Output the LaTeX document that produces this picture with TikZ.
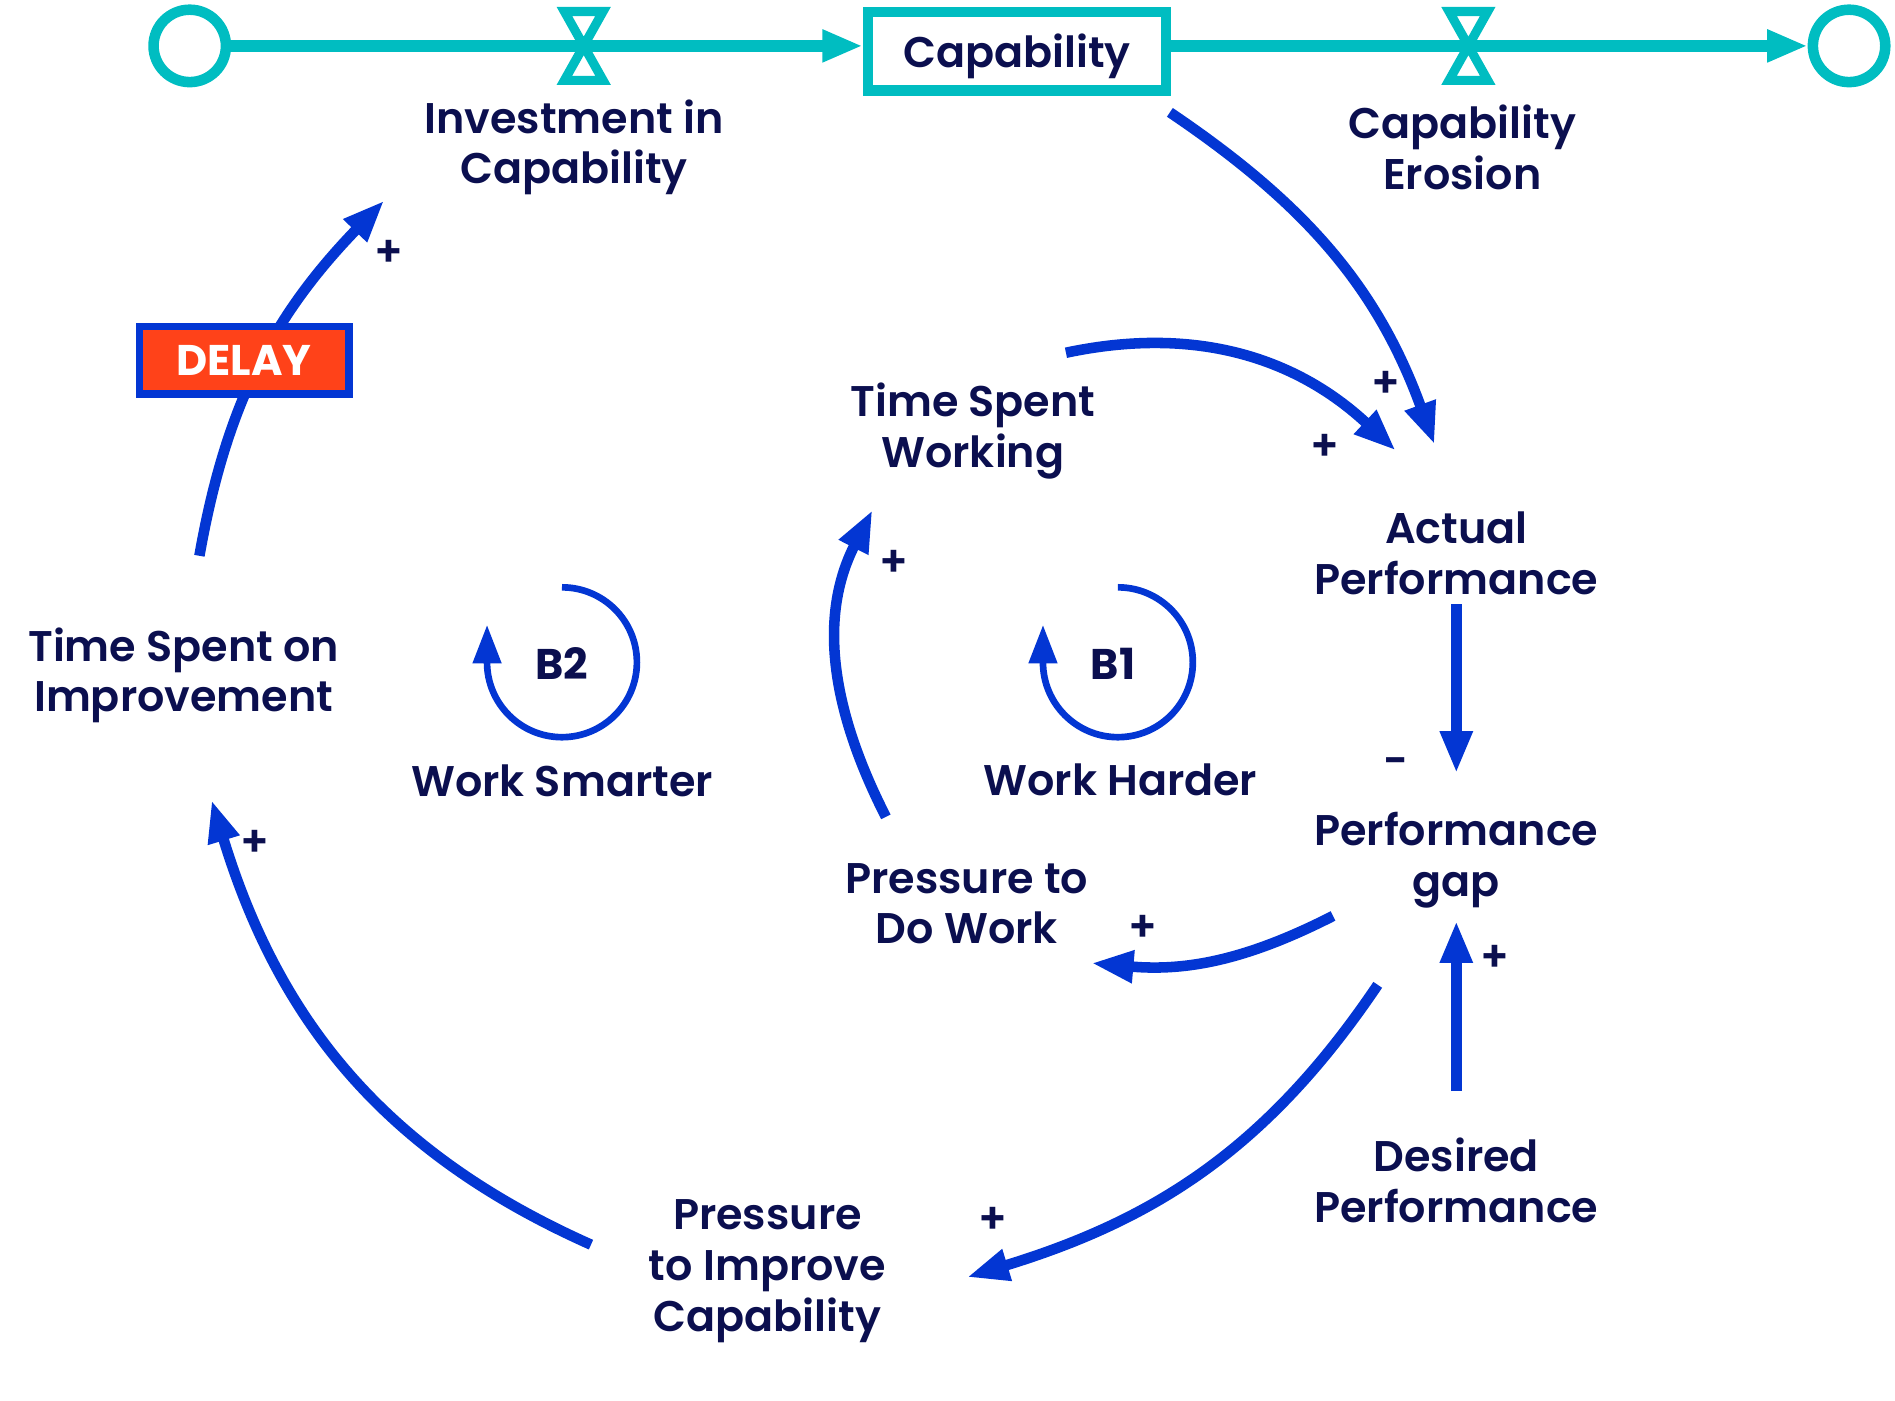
\documentclass[tikz,border=0pt]{standalone}
\usepackage{fontspec}
\setmainfont{Poppins SemiBold}[BoldFont=Poppins Bold]
\usetikzlibrary{positioning,arrows.meta}
\definecolor{navy}{HTML}{0B0F4F}
\definecolor{linkblue}{HTML}{0336D3}
\definecolor{pipeteal}{HTML}{00BDC1}
\definecolor{delayred}{HTML}{FF4219}
\newcommand{\labelfont}{\fontsize{12.2pt}{14.4pt}\selectfont}
\tikzset{
  causal/.style={-{Triangle[length=12pt,width=8.6pt]}, line width=3pt, linkblue},
  loopline/.style={-{Triangle[length=11pt,width=7.8pt]}, line width=1.9pt, linkblue},
  pipe/.style={-{Triangle[length=11.5pt,width=8.6pt]}, line width=3.2pt, pipeteal},
  stocknode/.style={draw=pipeteal, line width=3pt, fill=white, minimum width=84.8pt, minimum height=22.4pt, inner sep=0pt, text=navy, font=\labelfont},
  cloudnode/.style={circle, draw=pipeteal, line width=3pt, fill=white, minimum size=20.6pt, inner sep=0pt},
  valve/.style={draw=pipeteal, line width=2.6pt, fill=white},
  varnode/.style={text=navy, font=\labelfont, align=center, inner sep=0pt, yshift=-1pt},
  delaynode/.style={draw=linkblue, fill=delayred, line width=2.2pt, text=white, font=\labelfont\bfseries, minimum width=59.6pt, minimum height=19.2pt, inner sep=0pt},
  loopnode/.style={text=navy, font=\labelfont\bfseries, inner sep=0pt},
  polarity/.style={text=navy, font=\labelfont, inner sep=0pt}
}

\begin{document}
\begin{tikzpicture}[x=0.012086cm, y=0.012086cm]
  \useasboundingbox (0,0) rectangle (1568,1159);
  % stock and flows
  \node[cloudnode] (cloudL) at (157,1121) {};
  \node[stocknode] (cap) at (841.5,1116.5) {\smash{\raisebox{-4.6pt}{Capability}}};
  \node[cloudnode] (cloudR) at (1530,1121) {};
  \coordinate (v1) at (483,1121);
  \coordinate (v2) at (1215,1121);
  \draw[pipe] (cloudL) -- (cloudL -| cap.west);
  \draw[pipe] (cap.east |- cloudR) -- (cloudR);
  \foreach \v in {v1,v2}
    \draw[valve] ([shift={(-16,28.5)}]\v) -- ++(32,0) -- ++(-32,-57) -- ++(32,0) -- cycle;
  \node[varnode] (inv) at (475,1040) {Investment in\\Capability};
  \node[varnode] (ero) at (1210,1040) {Capability\\Erosion};

  % variables
  \node[varnode] (work) at (805,805) {Time Spent\\Working};
  \node[varnode] (act) at (1205,704) {Actual\\Performance};
  \node[varnode] (gap) at (1205,450) {Performance\\gap};
  \node[varnode] (des) at (1205,185) {Desired\\Performance};
  \node[varnode] (pdw) at (800,414) {Pressure to\\Do Work};
  \node[varnode] (pic) at (635,110) {Pressure\\to Improve\\Capability};
  \node[varnode] (tsi) at (152,603) {Time Spent on\\Improvement};

  % links
  \draw[causal] ([shift={(13,99)}]tsi.center) to[out=80,in=226] ([shift={(-157,-44)}]inv.center);
  \draw[causal] ([shift={(126.5,-50.5)}]cap.center) to[out=-34,in=110] ([shift={(-18,90)}]act.center);
  \draw[causal] ([shift={(77,65)}]work.center) to[out=12,in=137] ([shift={(-50,85)}]act.center);
  \draw[causal] ([shift={(0,-42)}]act.center) -- ([shift={(0,72)}]gap.center);
  \draw[causal] ([shift={(0,74)}]des.center) -- ([shift={(0,-50)}]gap.center);
  \draw[causal] ([shift={(-102,-46)}]gap.center) to[out=207,in=355] ([shift={(103,-49)}]pdw.center);
  \draw[causal] ([shift={(-67,72)}]pdw.center) to[out=117,in=243] ([shift={(-83,-65)}]work.center);
  \draw[causal] ([shift={(-65,-103)}]gap.center) to[out=236,in=17] ([shift={(165,-5)}]pic.center);
  \draw[causal] ([shift={(-146,22)}]pic.center) to[out=156,in=287] ([shift={(23,-103)}]tsi.center);
  \node[delaynode] (delay) at (202,861) {DELAY};

  % polarities
  \node[polarity] (s1) at (322,949) {+};
  \node[polarity] (s2) at (1147,841) {+};
  \node[polarity] (s3) at (1096,789) {+};
  \node[polarity] (s4) at (740,693) {+};
  \node[polarity] (s5) at (1155,525) {-};
  \node[polarity] (s6) at (1237,366) {+};
  \node[polarity] (s7) at (946,391) {+};
  \node[polarity] (s8) at (822,149) {+};
  \node[polarity] (s9) at (211,461) {+};

  % loops
  \node[loopnode] (b2) at (465,610) {B2};
  \node[loopnode] (b1) at (921,610) {B1};
  \draw[loopline] (b2.center) ++(0,63) arc[start angle=90, end angle=-180, radius=62] -- ++(0,31);
  \draw[loopline] ([shift={(4,0)}]b1.center) ++(0,63) arc[start angle=90, end angle=-180, radius=62] -- ++(0,31);
  \node[varnode] (smart) at (465,516) {Work Smarter};
  \node[varnode] (hard) at (927,517) {Work Harder};
\end{tikzpicture}
\end{document}
